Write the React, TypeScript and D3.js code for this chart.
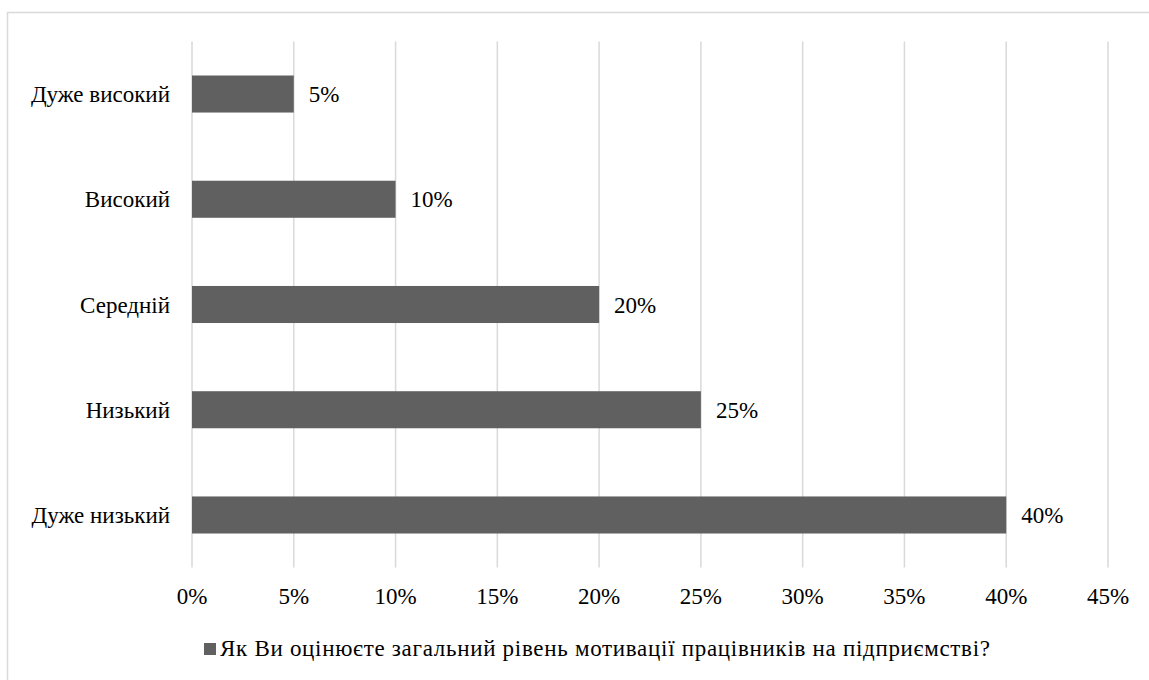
import React from "react";
import * as d3 from "d3";

// Survey: how employees rate the overall level of motivation at the enterprise
const categories: string[] = ["Дуже високий", "Високий", "Середній", "Низький", "Дуже низький"];
const shares: number[] = [5, 10, 20, 25, 40];
const xTicks: number[] = [0, 5, 10, 15, 20, 25, 30, 35, 40, 45];
const seriesName = "Як Ви оцінюєте загальний рівень мотивації працівників на підприємстві?";

const W = 1149;
const H = 680;
const FONT = "Liberation Serif";
const GRID = "#d9d9d9";
const BAR = "#606060";
const FS = 23;

type LabelProps = {
  x: number;
  y: number;
  anchor?: "start" | "middle" | "end";
  dy?: string;
  fit?: number;
  children: React.ReactNode;
};

function Label({ x, y, anchor = "start", dy = "0", fit, children }: LabelProps) {
  return (
    <text
      x={x}
      y={y}
      textAnchor={anchor}
      dy={dy}
      fill="#000"
      textLength={fit}
      lengthAdjust={fit ? "spacing" : undefined}
      style={{ fontFamily: FONT, fontSize: FS }}
    >
      {children}
    </text>
  );
}

export default function App() {
  const plot = { left: 192, right: 1108, top: 41.4, bottom: 567.6 };

  const x = d3.scaleLinear().domain([0, 45]).range([plot.left, plot.right]);
  const y = d3.scaleBand<string>().domain(categories).range([plot.top, plot.bottom]).padding(0);
  const barH = y.bandwidth() * 0.352;

  return (
    <svg width={W} height={H} style={{ position: "absolute", left: 0, top: 0, background: "#fff" }}>
      {/* chart frame */}
      <rect x={7.5} y={12.5} width={W + 20} height={H + 20} fill="#fff" stroke={GRID} strokeWidth={1.5} />

      {/* vertical gridlines */}
      {xTicks.map((t) => (
        <line key={`g${t}`} x1={x(t)} x2={x(t)} y1={plot.top} y2={plot.bottom} stroke={GRID} strokeWidth={1.5} />
      ))}

      {/* bars with value and category labels */}
      {categories.map((c, i) => {
        const cy = (y(c) as number) + y.bandwidth() / 2;
        return (
          <g key={c}>
            <rect x={x(0)} y={cy - barH / 2} width={x(shares[i]) - x(0)} height={barH} fill={BAR} />
            <Label x={x(shares[i]) + 15} y={cy} dy="0.35em">
              {`${shares[i]}%`}
            </Label>
            <Label x={x(0) - 22} y={cy} dy="0.35em" anchor="end">
              {c}
            </Label>
          </g>
        );
      })}

      {/* x axis tick labels */}
      {xTicks.map((t) => (
        <Label key={`t${t}`} x={x(t)} y={604} anchor="middle">
          {`${t}%`}
        </Label>
      ))}

      {/* legend */}
      <rect x={204} y={643} width={12} height={12} fill={BAR} />
      <Label x={220} y={656} fit={770}>
        {seriesName}
      </Label>
    </svg>
  );
}
